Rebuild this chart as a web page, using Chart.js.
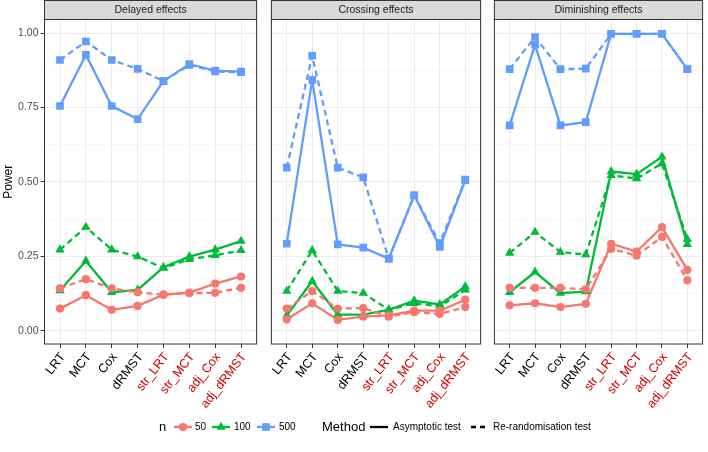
<!DOCTYPE html>
<html>
<head>
<meta charset="utf-8">
<script src="https://cdn.jsdelivr.net/npm/chart.js@4.4.1/dist/chart.umd.min.js"></script>
<style>
  html, body { margin: 0; padding: 0; background: #fff; }
  #wrap { position: relative; width: 708px; height: 452px; overflow: hidden; font-family: "Liberation Sans", Arial, Helvetica, sans-serif; }
  .pane { position: absolute; top: 0; height: 452px; }
  .lg { position: absolute; top: 418px; height: 18px; line-height: 18px; white-space: nowrap; color: #000; }
  .lt { font-size: 13px; }
  .ll { font-size: 10px; }
  .lg svg { display: block; }
</style>
</head>
<body>
<div id="wrap">
  <div class="pane" style="left:0;width:262px"><canvas id="c1"></canvas></div>
  <div class="pane" style="left:266px;width:220px"><canvas id="c2"></canvas></div>
  <div class="pane" style="left:489px;width:219px"><canvas id="c3"></canvas></div>

  <div class="lg lt" style="left:159px">n</div>
  <div class="lg" style="left:173px"><svg width="20" height="18"><line x1="1" y1="9" x2="19" y2="9" stroke="#F8766D" stroke-width="2.3"/><circle cx="10" cy="9" r="4.1" fill="#F8766D"/></svg></div>
  <div class="lg ll" style="left:195px">50</div>
  <div class="lg" style="left:211px"><svg width="20" height="18"><line x1="1" y1="9" x2="19" y2="9" stroke="#00BA38" stroke-width="2.3"/><polygon points="10,3.8 14.6,11.8 5.4,11.8" fill="#00BA38"/></svg></div>
  <div class="lg ll" style="left:234px">100</div>
  <div class="lg" style="left:256px"><svg width="20" height="18"><line x1="1" y1="9" x2="19" y2="9" stroke="#619CFF" stroke-width="2.3"/><rect x="6.2" y="5.2" width="7.6" height="7.6" fill="#619CFF"/></svg></div>
  <div class="lg ll" style="left:279px">500</div>

  <div class="lg lt" style="left:322px">Method</div>
  <div class="lg" style="left:370px"><svg width="18" height="18"><line x1="0" y1="9" x2="18" y2="9" stroke="#000" stroke-width="2.3"/></svg></div>
  <div class="lg ll" style="left:393px">Asymptotic test</div>
  <div class="lg" style="left:471px"><svg width="18" height="18"><line x1="0" y1="9" x2="18" y2="9" stroke="#000" stroke-width="2.3" stroke-dasharray="5,4"/></svg></div>
  <div class="lg ll" style="left:493px">Re-randomisation test</div>
</div>
<script>
// ---- data ----
const categories = ["LRT", "MCT", "Cox", "dRMST", "str_LRT", "str_MCT", "adj_Cox", "adj_dRMST"];
const panels = ["Delayed effects", "Crossing effects", "Diminishing effects"];
const yTicks = [0, 0.125, 0.25, 0.375, 0.5, 0.625, 0.75, 0.875, 1];

// Delayed effects
const delayed_n50_asym   = [0.074, 0.119, 0.070, 0.083, 0.121, 0.128, 0.158, 0.182];
const delayed_n50_rerand = [0.142, 0.173, 0.142, 0.129, 0.121, 0.126, 0.127, 0.144];
const delayed_n100_asym   = [0.135, 0.234, 0.129, 0.137, 0.213, 0.249, 0.272, 0.301];
const delayed_n100_rerand = [0.272, 0.348, 0.272, 0.249, 0.210, 0.240, 0.253, 0.270];
const delayed_n500_asym   = [0.755, 0.927, 0.755, 0.711, 0.839, 0.896, 0.874, 0.871];
const delayed_n500_rerand = [0.910, 0.972, 0.910, 0.880, 0.839, 0.893, 0.871, 0.869];

// Crossing effects
const crossing_n50_asym   = [0.038, 0.092, 0.036, 0.047, 0.051, 0.067, 0.067, 0.104];
const crossing_n50_rerand = [0.074, 0.133, 0.074, 0.076, 0.047, 0.062, 0.056, 0.079];
const crossing_n100_asym   = [0.051, 0.166, 0.054, 0.054, 0.070, 0.101, 0.088, 0.148];
const crossing_n100_rerand = [0.133, 0.270, 0.133, 0.126, 0.070, 0.092, 0.081, 0.137];
const crossing_n500_asym   = [0.292, 0.843, 0.290, 0.279, 0.242, 0.455, 0.281, 0.506];
const crossing_n500_rerand = [0.548, 0.924, 0.548, 0.515, 0.242, 0.455, 0.294, 0.508];

// Diminishing effects
const diminishing_n50_asym   = [0.085, 0.092, 0.079, 0.090, 0.292, 0.266, 0.348, 0.204];
const diminishing_n50_rerand = [0.144, 0.144, 0.144, 0.139, 0.275, 0.252, 0.315, 0.169];
const diminishing_n100_asym   = [0.129, 0.197, 0.126, 0.131, 0.535, 0.526, 0.584, 0.290];
const diminishing_n100_rerand = [0.261, 0.331, 0.264, 0.256, 0.522, 0.511, 0.562, 0.307];
const diminishing_n500_asym   = [0.690, 0.961, 0.690, 0.701, 0.998, 0.998, 0.998, 0.879];
const diminishing_n500_rerand = [0.879, 0.987, 0.879, 0.881, 0.998, 0.998, 0.998, 0.879];

const panelData = [
  [delayed_n50_asym, delayed_n50_rerand, delayed_n100_asym, delayed_n100_rerand, delayed_n500_asym, delayed_n500_rerand],
  [crossing_n50_asym, crossing_n50_rerand, crossing_n100_asym, crossing_n100_rerand, crossing_n500_asym, crossing_n500_rerand],
  [diminishing_n50_asym, diminishing_n50_rerand, diminishing_n100_asym, diminishing_n100_rerand, diminishing_n500_asym, diminishing_n500_rerand]
];

// ---- styles ----
const FONT = '"Liberation Sans", Arial, Helvetica, sans-serif';
const groupColor = ["#F8766D", "#F8766D", "#00BA38", "#00BA38", "#619CFF", "#619CFF"];
const groupShape = ["circle", "circle", "triangle", "triangle", "rect", "rect"];
const groupRadius = [4.1, 4.1, 5.4, 5.4, 5.4, 5.4];
const groupDash = [[], [6, 4], [], [6, 4], [], [6, 4]];

const frame = {
  id: 'frame',
  beforeDraw(chart, args, opts) {
    const a = chart.chartArea, ctx = chart.ctx;
    ctx.save();
    ctx.fillStyle = '#d9d9d9';
    ctx.fillRect(a.left, 0.5, a.right - a.left, a.top - 0.5);
    ctx.strokeStyle = '#333333';
    ctx.lineWidth = 1;
    ctx.strokeRect(a.left, 0.5, a.right - a.left, a.top - 0.5);
    ctx.fillStyle = '#1a1a1a';
    ctx.font = '10.5px ' + FONT;
    ctx.textAlign = 'center';
    ctx.textBaseline = 'middle';
    ctx.fillText(opts.text, (a.left + a.right) / 2, a.top / 2 + 0.5);
    ctx.restore();
  },
  afterDraw(chart) {
    const a = chart.chartArea, ctx = chart.ctx;
    ctx.save();
    ctx.strokeStyle = '#333333';
    ctx.lineWidth = 1;
    ctx.strokeRect(a.left, a.top, a.right - a.left, a.bottom - a.top);
    ctx.restore();
  }
};

function makeChart(id, p, first, padL, padR) {
  const sets = panelData[p];
  const datasets = [];
  // points (drawn on top)
  sets.forEach((vals, g) => {
    datasets.push({
      data: vals.map((v, i) => ({ x: i, y: v })),
      showLine: false,
      pointStyle: groupShape[g],
      pointRadius: groupRadius[g],
      pointBackgroundColor: groupColor[g],
      pointBorderColor: groupColor[g],
      pointBorderWidth: 0,
      order: 1
    });
  });
  // lines
  sets.forEach((vals, g) => {
    datasets.push({
      data: vals.map((v, i) => ({ x: i, y: v })),
      borderColor: groupColor[g],
      borderWidth: 2.3,
      borderDash: groupDash[g],
      pointRadius: 0,
      fill: false,
      tension: 0,
      order: 2
    });
  });
  return new Chart(document.getElementById(id), {
    type: 'line',
    data: { datasets },
    options: {
      responsive: true,
      maintainAspectRatio: false,
      animation: false,
      events: [],
      layout: { padding: { top: 19.5, left: padL, right: padR, bottom: 0 } },
      plugins: { legend: { display: false }, tooltip: { enabled: false }, frame: { text: panels[p] } },
      scales: {
        x: {
          type: 'linear', min: -0.6, max: 7.6,
          afterBuildTicks: s => { s.ticks = categories.map((c, i) => ({ value: i })); },
          afterFit: s => { s.height = 108; },
          border: { display: false },
          grid: { color: '#ebebeb', lineWidth: 1, tickColor: '#333333', tickLength: 4, drawTicks: true },
          ticks: {
            autoSkip: false, maxRotation: 52, minRotation: 52, padding: 2, labelOffset: 3,
            font: { family: FONT, size: 12.5 },
            color: c => (c.index < 4 ? '#000000' : '#cd0000'),
            callback: v => categories[v]
          }
        },
        y: {
          type: 'linear', min: -0.045, max: 1.046,
          afterBuildTicks: s => { s.ticks = yTicks.map(v => ({ value: v })); },
          afterFit: s => { s.width = first ? 44.5 : 0; },
          border: { display: false },
          grid: {
            color: c => (Math.abs((c.tick.value * 4) % 1) < 1e-9 ? '#ebebeb' : '#f2f2f2'),
            lineWidth: c => (Math.abs((c.tick.value * 4) % 1) < 1e-9 ? 1 : 0.6),
            tickColor: c => (Math.abs((c.tick.value * 4) % 1) < 1e-9 ? '#333333' : 'rgba(0,0,0,0)'),
            tickLength: 4,
            drawTicks: first
          },
          title: {
            display: first, text: 'Power', color: '#000000',
            font: { family: FONT, size: 12 }, padding: { top: 1, bottom: 0 }
          },
          ticks: {
            display: first, padding: 2,
            font: { family: FONT, size: 10.5 }, color: '#4d4d4d',
            callback: v => (Math.abs((v * 4) % 1) < 1e-9 ? v.toFixed(2) : '')
          }
        }
      }
    },
    plugins: [frame]
  });
}

makeChart('c1', 0, true, 0, 1);
makeChart('c2', 1, false, 1, 1.5);
makeChart('c3', 2, false, 1.5, 1);
</script>
</body>
</html>
